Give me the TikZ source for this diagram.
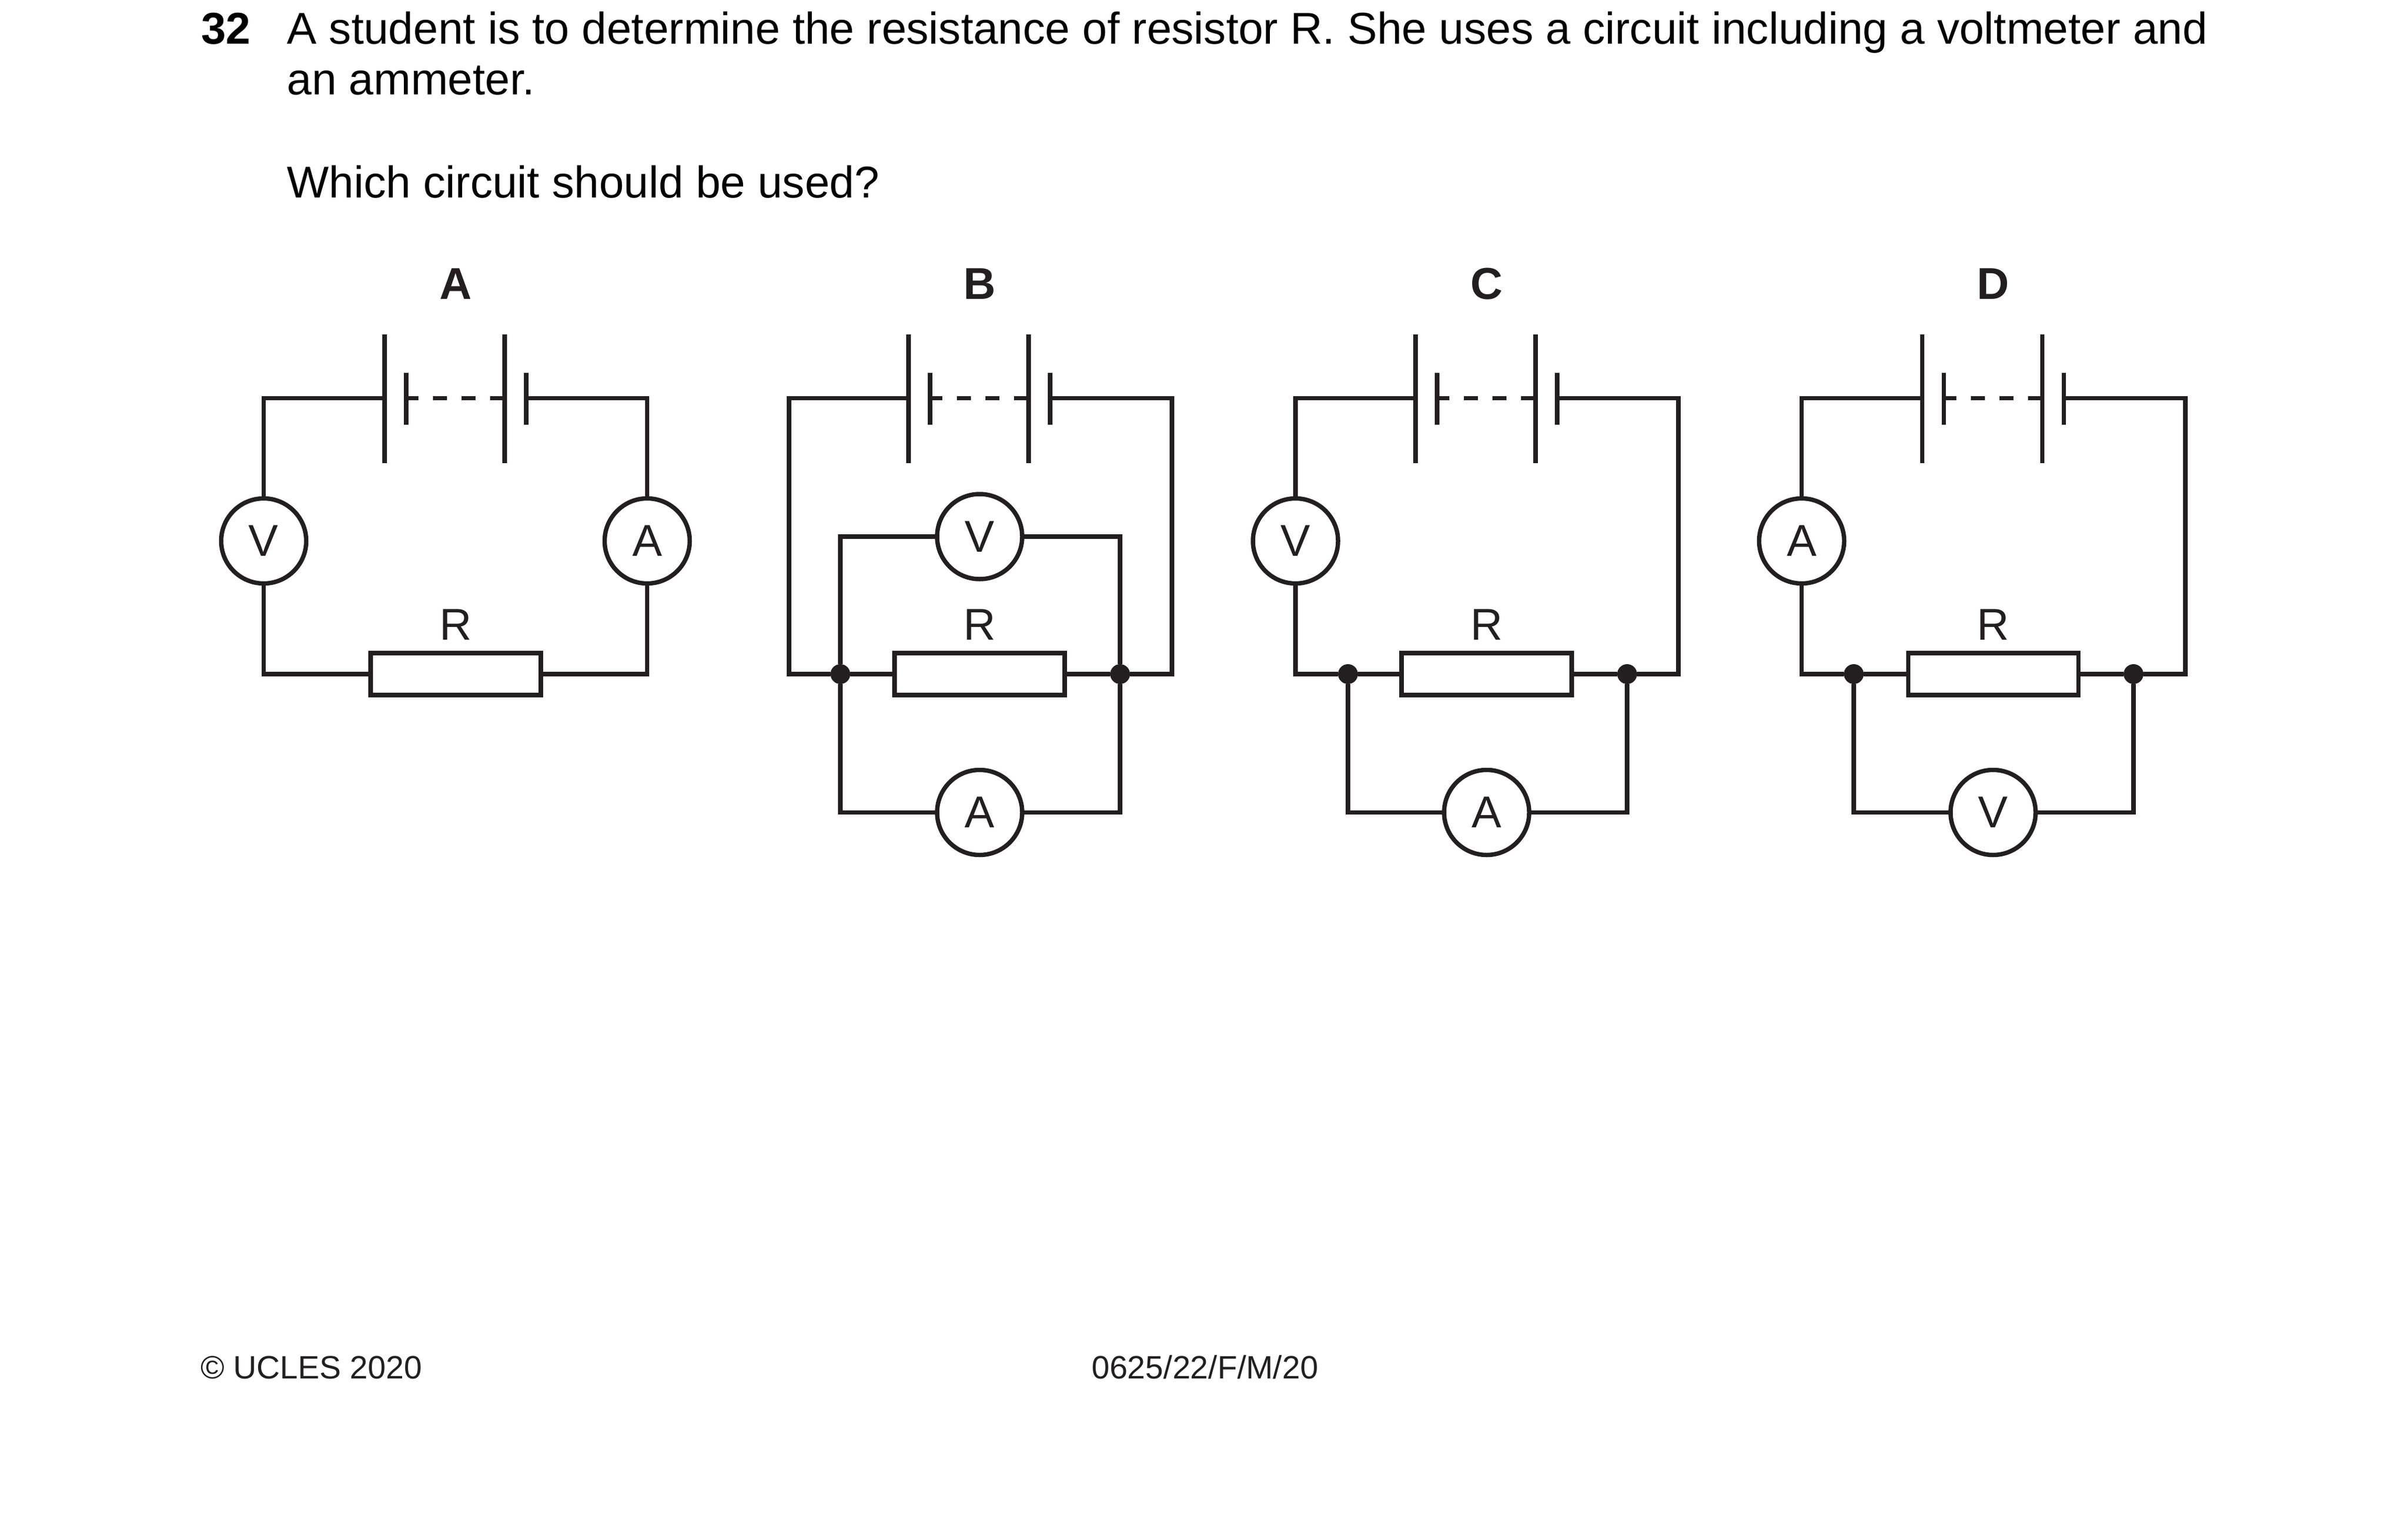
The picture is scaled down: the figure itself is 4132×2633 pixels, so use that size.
\documentclass[tikz,border=0pt]{standalone}
\usepackage{fontspec}
\setmainfont{Liberation Sans}
\definecolor{ink}{HTML}{231F20}
\newcommand{\bodyfont}{\fontsize{76.5}{88}\selectfont}
\newcommand{\footfont}{\fontsize{55.5}{66}\selectfont}
\tikzset{
  wire/.style={draw=ink,line width=7.5pt},
  meter/.style={circle,draw=ink,fill=white,line width=7.5pt,minimum size=146pt,inner sep=0pt,outer sep=0pt,text=ink,font=\bodyfont},
  resbox/.style={rectangle,draw=ink,line width=7.5pt,minimum width=292pt,minimum height=72pt,inner sep=0pt,outer sep=0pt},
  lab/.style={anchor=base,inner sep=0pt,text=ink,font=\bodyfont},
  head/.style={anchor=base,inner sep=0pt,text=ink,font=\bodyfont\bfseries},
  txt/.style={anchor=base west,inner sep=0pt,text=black,font=\bodyfont},
  foot/.style={anchor=base west,inner sep=0pt,text=ink,font=\footfont},
  junction/.style={circle,fill=ink,minimum size=34pt,inner sep=0pt,outer sep=0pt},
}
% battery: centre x, tag
\newcommand{\cellset}[2]{%
  \coordinate (#2l) at (#1-122,683.5);
  \coordinate (#2s) at (#1-85,683.5);
  \coordinate (#2m) at (#1+84,683.5);
  \coordinate (#2r) at (#1+121,683.5);
  \draw[wire] (#1-122,574) -- (#1-122,795);
  \draw[wire] (#1-85,640) -- (#1-85,729);
  \draw[wire] (#1+84,574) -- (#1+84,795);
  \draw[wire] (#1+121,640) -- (#1+121,729);
  \draw[wire,dash pattern=on 24pt off 25pt,dash phase=3pt] (#2s) -- (#2m);
}
\begin{document}
\begin{tikzpicture}[x=1pt,y=-1pt]
\useasboundingbox (0,0) rectangle (4132,2633);
\fill[white] (0,0) rectangle (4132,2633);
% question text
\node[txt,font=\bodyfont\bfseries] (qn) at (345,76) {32};
\node[txt] (q1) at (492.5,76) {A student is to determine the resistance of resistor R. She uses a circuit including a voltmeter and};
\node[txt] (q2) at (492.5,163) {an ammeter.};
\node[txt] (q3) at (492.5,339) {Which circuit should be used?};
% circuit A
\node[head] (hA) at (782,513) {A};
\cellset{782}{a}
\node[meter] (aV) at (452.5,928.5) {V};
\node[meter] (aA) at (1110.5,928.5) {A};
\node[resbox] (aR) at (782,1157) {};
\node[lab] (aRl) at (782,1098) {R};
\draw[wire] (al) -| (aV.north);
\draw[wire] (ar) -| (aA.north);
\draw[wire] (aV.south) |- (aR.west);
\draw[wire] (aA.south) |- (aR.east);
% circuit B
\node[head] (hB) at (1681,513) {B};
\cellset{1681}{b}
\node[meter] (bV) at (1681,921) {V};
\node[meter] (bA) at (1681,1394.5) {A};
\node[resbox] (bR) at (1681,1157) {};
\node[lab] (bRl) at (1681,1098) {R};
\node[junction] (bJl) at (1442,1157) {};
\node[junction] (bJr) at (1922,1157) {};
\coordinate (bLo) at (1354,1157);
\coordinate (bRo) at (2011,1157);
\draw[wire] (bl) -| (bLo) -- (bJl);
\draw[wire] (br) -| (bRo) -- (bJr);
\draw[wire] (bJl) -- (bR.west);
\draw[wire] (bJr) -- (bR.east);
\draw[wire] (bV.west) -| (bJl);
\draw[wire] (bV.east) -| (bJr);
\draw[wire] (bA.west) -| (bJl);
\draw[wire] (bA.east) -| (bJr);
% circuit C
\node[head] (hC) at (2551,513) {C};
\cellset{2551}{c}
\node[meter] (cV) at (2223,928.5) {V};
\node[meter] (cA) at (2551,1394.5) {A};
\node[resbox] (cR) at (2551,1157) {};
\node[lab] (cRl) at (2551,1098) {R};
\node[junction] (cJl) at (2313,1157) {};
\node[junction] (cJr) at (2792,1157) {};
\coordinate (cRo) at (2880,1157);
\draw[wire] (cl) -| (cV.north);
\draw[wire] (cV.south) |- (cJl);
\draw[wire] (cr) -| (cRo) -- (cJr);
\draw[wire] (cJl) -- (cR.west);
\draw[wire] (cJr) -- (cR.east);
\draw[wire] (cA.west) -| (cJl);
\draw[wire] (cA.east) -| (cJr);
% circuit D
\node[head] (hD) at (3420.5,513) {D};
\cellset{3420.5}{d}
\node[meter] (dA) at (3091.5,928.5) {A};
\node[meter] (dV) at (3420,1394.5) {V};
\node[resbox] (dR) at (3420.5,1157) {};
\node[lab] (dRl) at (3420.5,1098) {R};
\node[junction] (dJl) at (3181,1157) {};
\node[junction] (dJr) at (3661,1157) {};
\coordinate (dRo) at (3750,1157);
\draw[wire] (dl) -| (dA.north);
\draw[wire] (dA.south) |- (dJl);
\draw[wire] (dr) -| (dRo) -- (dJr);
\draw[wire] (dJl) -- (dR.west);
\draw[wire] (dJr) -- (dR.east);
\draw[wire] (dV.west) -| (dJl);
\draw[wire] (dV.east) -| (dJr);
% footer
\node[foot] (f1) at (344,2366) {© UCLES 2020};
\node[foot] (f2) at (1873,2366) {0625/22/F/M/20};
\end{tikzpicture}
\end{document}
